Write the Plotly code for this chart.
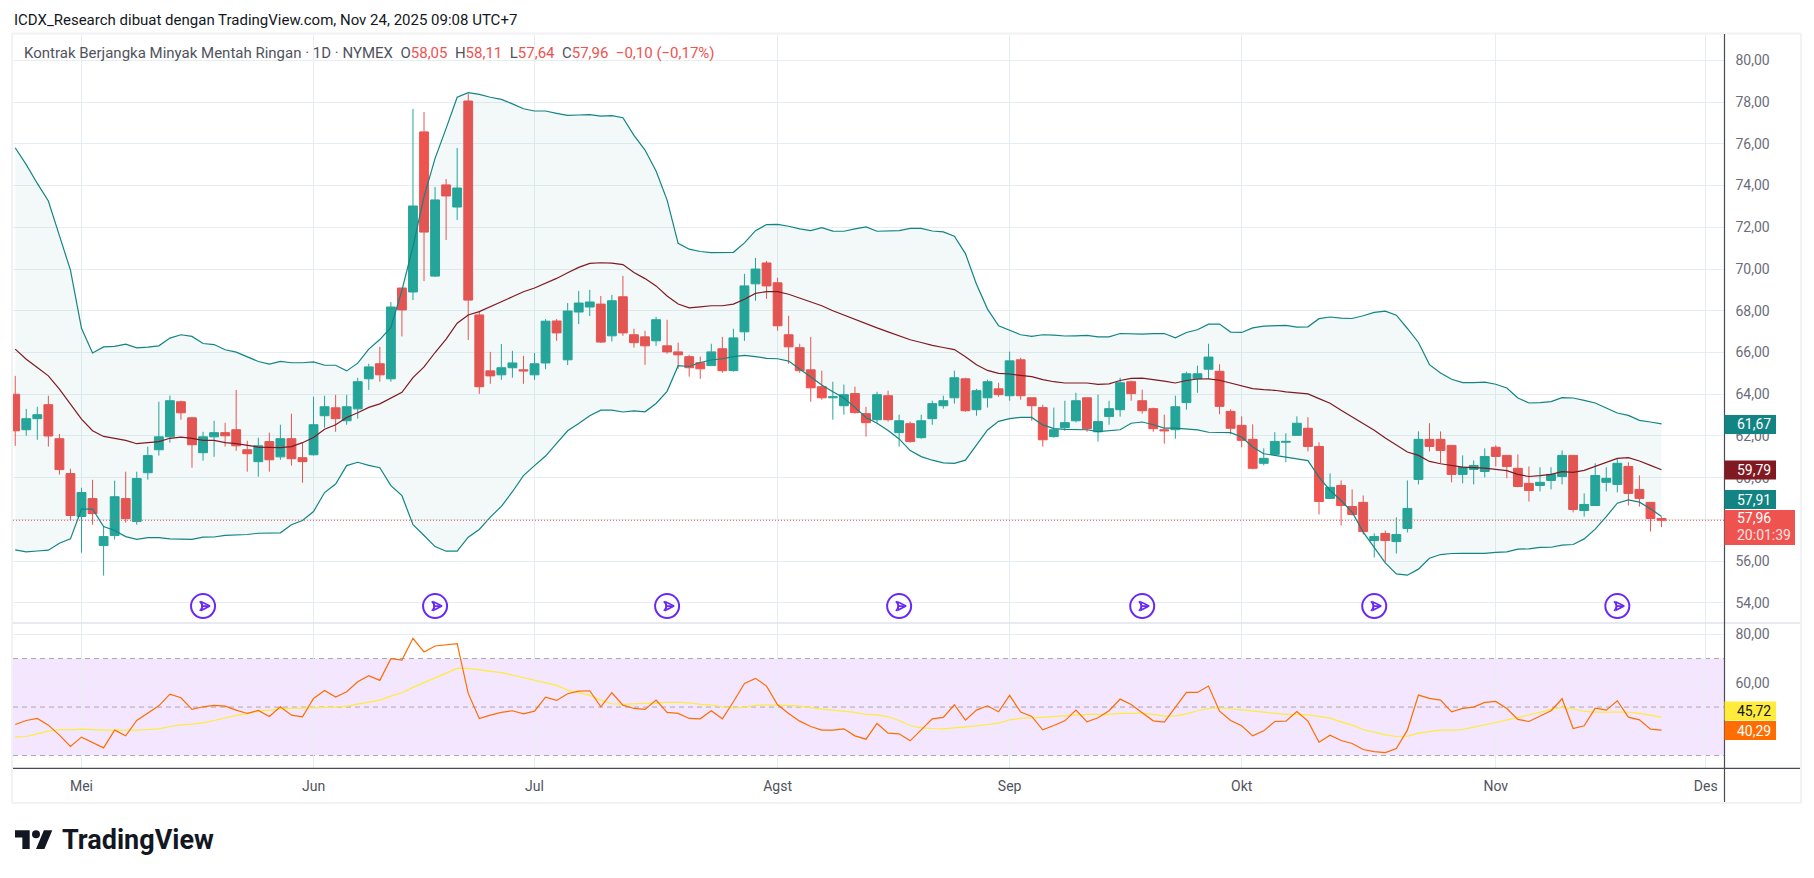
import plotly.graph_objects as go

W, H = 1814, 878

# harga harian, satu nilai per bar
open_ = [64.0, 62.3, 62.83, 63.5, 61.87, 60.2, 58.14, 59.0, 56.75, 57.23,
         59.0, 57.9, 60.24, 61.34, 61.96, 63.64, 62.87, 61.2, 61.96, 62.16,
         62.3, 61.34, 60.77, 61.73, 61.0, 61.87, 60.96, 61.1, 62.97, 63.35,
         62.73, 63.3, 64.74, 65.46, 64.74, 69.09, 68.9, 76.57, 69.66, 74.03,
         72.97, 78.05, 67.8, 65.12, 64.93, 65.27, 65.17, 64.93, 65.5, 67.51,
         65.65, 67.94, 68.18, 68.32, 66.8, 68.67, 66.85, 66.75, 66.56, 66.32,
         66.03, 65.8, 65.51, 65.37, 66.18, 65.13, 66.99, 69.29, 70.29, 69.34,
         66.85, 66.23, 65.17, 64.36, 63.83, 63.45, 64.03, 63.07, 62.78, 63.93,
         62.16, 62.59, 61.92, 62.83, 63.45, 63.83, 64.74, 63.26, 63.83, 64.26,
         63.93, 65.65, 63.83, 63.36, 61.97, 62.4, 62.73, 63.83, 62.2, 62.93,
         63.26, 64.6, 63.69, 63.31, 62.3, 62.3, 63.6, 64.74, 65.2, 65.1,
         63.18, 62.51, 61.84, 60.69, 61.12, 61.7, 62.03, 62.37, 61.5, 59.01,
         59.63, 58.62, 58.82, 56.99, 57.33, 56.94, 57.57, 59.92, 61.84, 61.84,
         61.55, 60.16, 60.4, 60.3, 61.46, 61.07, 60.45, 59.73, 59.63, 59.87,
         60.06, 61.07, 58.43, 58.67, 59.78, 59.68, 60.54, 59.44, 58.82, 58.05]
high = [64.88, 63.3, 63.4, 63.93, 62.1, 60.43, 59.52, 59.9, 57.66, 59.86,
        60.29, 60.29, 61.49, 63.64, 63.93, 63.69, 62.92, 62.2, 62.73, 62.63,
        64.21, 61.77, 61.92, 62.16, 62.54, 63.07, 61.68, 63.88, 63.93, 63.97,
        63.97, 64.79, 65.46, 66.27, 68.42, 69.09, 77.67, 77.52, 73.93, 74.31,
        75.8, 78.39, 67.94, 66.03, 66.41, 66.08, 65.84, 65.98, 67.6, 67.6,
        68.37, 68.95, 69.0, 68.71, 68.76, 69.67, 67.14, 67.04, 67.71, 67.57,
        66.47, 65.89, 65.8, 66.42, 66.75, 67.14, 69.77, 70.53, 70.39, 69.58,
        67.76, 66.42, 66.75, 65.13, 64.6, 64.46, 64.36, 63.4, 64.12, 64.17,
        63.02, 62.69, 63.02, 63.69, 63.93, 65.13, 64.79, 64.26, 64.7, 64.55,
        66.04, 65.75, 63.83, 63.5, 63.36, 63.69, 64.07, 63.83, 63.98, 63.69,
        64.79, 64.65, 64.22, 63.36, 63.02, 63.93, 65.08, 65.37, 66.42, 65.44,
        63.28, 62.94, 62.56, 61.41, 62.18, 62.13, 62.94, 62.9, 61.7, 60.21,
        59.87, 59.44, 59.15, 57.33, 57.47, 58.1, 59.87, 62.22, 62.61, 62.22,
        61.55, 61.07, 60.83, 61.41, 61.55, 61.07, 61.12, 60.54, 60.5, 60.5,
        61.31, 61.07, 59.25, 60.69, 60.5, 60.9, 60.74, 60.11, 58.82, 58.11]
low = [61.53, 62.01, 61.82, 61.49, 60.15, 57.95, 56.41, 57.75, 55.31, 57.04,
       57.85, 57.75, 59.91, 61.06, 61.68, 62.78, 60.48, 60.82, 61.0, 61.49,
       61.29, 60.29, 60.05, 60.29, 60.86, 60.58, 59.76, 61.06, 62.4, 62.2,
       62.54, 62.83, 64.21, 64.6, 64.6, 66.77, 68.51, 69.42, 69.62, 71.39,
       72.35, 66.6, 64.02, 64.5, 64.69, 64.79, 64.5, 64.69, 65.2, 66.56,
       65.4, 67.36, 67.75, 66.46, 66.53, 66.8, 66.23, 65.41, 66.32, 65.94,
       65.22, 64.84, 64.74, 65.37, 65.03, 65.08, 66.56, 68.48, 68.57, 67.04,
       65.46, 65.03, 63.64, 63.74, 62.78, 63.02, 63.07, 61.97, 62.64, 62.69,
       61.49, 61.68, 61.87, 62.54, 63.31, 63.55, 63.16, 62.97, 63.36, 63.88,
       63.69, 63.74, 62.73, 61.49, 61.92, 62.25, 62.65, 62.2, 61.73, 62.54,
       62.93, 63.69, 63.07, 62.2, 61.63, 61.87, 63.26, 64.07, 64.74, 63.04,
       62.08, 61.46, 60.4, 60.59, 61.07, 60.74, 62.03, 61.26, 58.24, 59.01,
       57.71, 58.19, 57.28, 56.18, 55.98, 56.37, 57.38, 59.68, 61.26, 60.69,
       59.78, 59.73, 59.68, 60.02, 60.54, 59.97, 59.54, 58.86, 59.34, 59.44,
       59.68, 58.34, 58.14, 58.67, 59.34, 59.3, 58.67, 58.62, 57.42, 57.64]
close = [62.25, 62.83, 63.02, 62.0, 60.39, 58.19, 59.29, 58.28, 57.18, 59.09,
         58.04, 59.96, 61.06, 61.96, 63.69, 63.11, 61.58, 61.96, 62.16, 62.01,
         61.53, 61.15, 61.53, 60.86, 61.87, 60.91, 60.77, 62.54, 63.4, 62.83,
         63.4, 64.6, 65.31, 64.93, 68.18, 68.04, 73.02, 71.77, 73.31, 73.5,
         73.88, 68.51, 64.36, 64.88, 65.27, 65.5, 65.12, 65.46, 67.5, 66.94,
         67.99, 68.37, 68.42, 66.5, 68.48, 66.94, 66.47, 66.32, 67.57, 66.03,
         65.89, 65.27, 65.22, 66.03, 65.13, 66.7, 69.19, 70.0, 69.19, 67.28,
         66.27, 65.13, 64.31, 63.83, 63.88, 63.98, 63.12, 62.64, 63.98, 62.78,
         62.73, 61.73, 62.73, 63.55, 63.69, 64.79, 63.21, 64.17, 64.6, 63.98,
         65.6, 63.93, 63.45, 61.82, 62.3, 62.64, 63.69, 62.35, 62.69, 63.31,
         64.55, 64.03, 63.21, 62.35, 62.25, 63.4, 64.98, 64.98, 65.78, 63.42,
         62.37, 61.79, 60.45, 60.93, 61.74, 61.74, 62.61, 61.5, 58.86, 59.54,
         58.67, 58.24, 57.42, 57.18, 56.99, 57.28, 58.53, 61.84, 61.5, 61.31,
         60.16, 60.5, 60.59, 61.02, 61.02, 60.54, 59.58, 59.39, 59.78, 60.16,
         61.07, 58.48, 58.72, 60.11, 59.97, 60.69, 59.25, 59.01, 58.05, 57.96]

bb_upper = [75.81, 75.0, 74.1, 73.26, 71.6, 69.95, 67.16, 65.98, 66.27, 66.29,
            66.4, 66.22, 66.26, 66.32, 66.69, 66.85, 66.77, 66.43, 66.38, 66.13,
            66.02, 65.79, 65.57, 65.44, 65.57, 65.51, 65.51, 65.55, 65.39, 65.39,
            65.12, 65.49, 66.16, 66.62, 67.2, 68.99, 71.07, 73.47, 75.3, 76.74,
            78.23, 78.45, 78.37, 78.23, 78.13, 77.91, 77.68, 77.57, 77.57, 77.46,
            77.36, 77.38, 77.4, 77.33, 77.35, 77.25, 76.4, 75.7, 74.7, 73.3,
            71.23, 70.95, 70.84, 70.79, 70.79, 70.8, 71.25, 71.84, 72.13, 72.14,
            72.05, 71.92, 71.84, 71.98, 71.82, 71.81, 71.92, 72.02, 71.81, 71.82,
            71.84, 71.95, 71.95, 71.82, 71.78, 71.57, 70.74, 69.27, 68.08, 67.28,
            67.07, 66.85, 66.77, 66.85, 66.83, 66.79, 66.8, 66.82, 66.75, 66.75,
            66.91, 66.88, 66.88, 66.9, 66.91, 66.7, 66.96, 67.09, 67.36, 67.36,
            66.98, 66.96, 67.18, 67.26, 67.28, 67.3, 67.22, 67.23, 67.62, 67.7,
            67.65, 67.63, 67.76, 67.92, 67.98, 67.79, 67.15, 66.48, 65.42, 65.02,
            64.72, 64.56, 64.56, 64.58, 64.48, 64.3, 63.82, 63.58, 63.6, 63.65,
            63.84, 63.82, 63.71, 63.58, 63.34, 63.1, 62.99, 62.75, 62.67, 62.58]
bb_basis = [66.16, 65.68, 65.28, 64.88, 64.25, 63.53, 62.81, 62.25, 61.98, 61.89,
            61.79, 61.63, 61.69, 61.73, 61.89, 61.95, 61.89, 61.79, 61.79, 61.68,
            61.63, 61.55, 61.47, 61.45, 61.44, 61.49, 61.68, 61.93, 62.32, 62.54,
            62.89, 63.11, 63.37, 63.54, 63.8, 64.09, 64.8, 65.31, 66.0, 66.64,
            67.4, 67.8, 67.96, 68.18, 68.43, 68.67, 68.91, 69.09, 69.31, 69.55,
            69.82, 70.08, 70.27, 70.3, 70.28, 70.21, 69.83, 69.54, 69.19, 68.71,
            68.32, 68.14, 68.19, 68.24, 68.24, 68.32, 68.55, 68.83, 68.92, 68.92,
            68.79, 68.6, 68.4, 68.24, 68.0, 67.79, 67.6, 67.39, 67.18, 66.99,
            66.8, 66.61, 66.48, 66.34, 66.24, 66.14, 65.8, 65.41, 65.14, 65.0,
            64.97, 64.89, 64.84, 64.7, 64.6, 64.54, 64.55, 64.54, 64.47, 64.5,
            64.66, 64.76, 64.77, 64.71, 64.63, 64.54, 64.66, 64.73, 64.74, 64.67,
            64.54, 64.4, 64.27, 64.22, 64.19, 64.11, 64.06, 64.02, 63.79, 63.57,
            63.23, 62.91, 62.56, 62.27, 61.9, 61.57, 61.23, 61.07, 60.78, 60.67,
            60.59, 60.51, 60.48, 60.46, 60.4, 60.34, 60.16, 60.06, 60.1, 60.16,
            60.29, 60.26, 60.35, 60.54, 60.74, 60.93, 60.96, 60.8, 60.59, 60.38]
bb_lower = [56.54, 56.45, 56.49, 56.53, 56.86, 57.07, 58.5, 58.5, 57.66, 57.47,
            57.18, 57.05, 57.13, 57.13, 57.07, 57.05, 57.05, 57.15, 57.16, 57.24,
            57.26, 57.28, 57.34, 57.34, 57.36, 57.75, 57.95, 58.38, 59.29, 59.7,
            60.58, 60.74, 60.59, 60.48, 59.62, 59.14, 57.75, 57.23, 56.7, 56.48,
            56.48, 57.15, 57.52, 58.11, 58.63, 59.33, 60.1, 60.58, 61.04, 61.65,
            62.25, 62.6, 62.97, 63.24, 63.24, 63.15, 63.2, 63.16, 63.56, 64.14,
            65.37, 65.33, 65.52, 65.64, 65.7, 65.8, 65.86, 65.8, 65.72, 65.7,
            65.59, 65.21, 64.81, 64.44, 64.12, 63.82, 63.37, 62.89, 62.61, 62.26,
            61.86, 61.3, 61.01, 60.84, 60.71, 60.69, 60.84, 61.54, 62.29, 62.7,
            62.83, 62.89, 62.89, 62.53, 62.35, 62.32, 62.32, 62.3, 62.21, 62.25,
            62.3, 62.61, 62.67, 62.54, 62.38, 62.38, 62.35, 62.29, 62.18, 62.16,
            62.16, 61.95, 61.47, 61.15, 61.07, 60.98, 60.93, 60.82, 60.03, 59.39,
            58.91, 58.35, 57.39, 56.67, 55.92, 55.39, 55.33, 55.62, 56.14, 56.32,
            56.37, 56.38, 56.37, 56.38, 56.42, 56.45, 56.58, 56.59, 56.66, 56.67,
            56.77, 56.8, 57.07, 57.54, 58.14, 58.78, 58.94, 58.83, 58.51, 58.14]

rsi = [42.81, 44.46, 45.29, 42.53, 38.4, 33.72, 37.58, 35.37, 33.17, 40.47,
       38.13, 44.46, 47.49, 50.52, 55.34, 53.83, 49.01, 50.11, 50.66, 50.39,
       48.73, 47.36, 48.6, 46.12, 50.11, 46.67, 45.98, 53.55, 56.86, 54.1,
       56.31, 60.44, 62.92, 61.0, 69.94, 69.39, 78.35, 72.7, 75.18, 75.59,
       76.14, 55.62, 45.29, 46.67, 47.77, 48.46, 47.22, 48.32, 54.1, 52.73,
       55.48, 56.58, 56.72, 50.11, 55.9, 50.8, 49.42, 49.01, 52.87, 47.77,
       47.36, 45.29, 45.15, 48.46, 45.15, 52.18, 59.75, 61.82, 58.65, 50.94,
       47.36, 44.19, 41.98, 40.47, 40.47, 41.02, 38.13, 36.75, 43.22, 39.23,
       38.95, 36.06, 40.74, 45.15, 45.7, 50.94, 44.6, 48.73, 50.52, 48.04,
       54.79, 47.91, 46.12, 40.6, 42.39, 44.32, 48.73, 43.91, 45.56, 48.46,
       53.28, 51.07, 47.63, 44.32, 43.77, 50.11, 56.03, 56.03, 58.65, 48.32,
       44.46, 42.26, 38.13, 40.19, 44.05, 44.19, 48.18, 44.19, 35.51, 38.4,
       36.2, 34.96, 32.48, 31.65, 31.24, 32.89, 40.47, 54.93, 53.55, 52.87,
       48.04, 49.42, 49.97, 51.9, 52.31, 49.42, 44.88, 44.05, 46.25, 48.46,
       53.42, 41.16, 42.26, 49.56, 48.73, 52.59, 45.84, 44.74, 40.88, 40.47]
rsi_ma = [37.71, 37.85, 38.95, 40.05, 40.74, 40.6, 40.88, 40.6, 40.47, 40.47,
          40.33, 40.47, 40.74, 41.02, 41.98, 42.67, 42.95, 43.5, 44.46, 45.56,
          46.53, 47.22, 48.32, 48.73, 49.28, 49.42, 49.56, 49.7, 49.7, 49.97,
          50.39, 51.21, 52.04, 52.87, 54.52, 55.9, 58.1, 60.03, 61.96, 64.02,
          65.95, 65.95, 65.4, 64.85, 64.16, 63.2, 62.09, 61.13, 60.03, 58.93,
          57.0, 56.03, 54.79, 52.87, 51.35, 51.07, 51.35, 51.35, 51.9, 51.9,
          51.9, 51.76, 51.07, 50.8, 50.11, 49.56, 49.97, 50.66, 50.94, 50.94,
          50.66, 50.39, 49.7, 49.15, 48.73, 48.32, 47.77, 46.94, 46.8, 45.98,
          44.46, 42.39, 41.43, 41.16, 41.02, 41.43, 41.71, 42.26, 42.81, 43.36,
          44.74, 45.43, 45.56, 45.84, 46.12, 46.53, 46.94, 46.94, 46.94, 46.94,
          47.36, 47.36, 47.36, 46.94, 46.25, 46.39, 47.22, 48.46, 49.42, 49.7,
          49.28, 49.15, 48.46, 47.91, 47.36, 46.94, 46.94, 46.8, 46.12, 45.43,
          43.91, 42.53, 40.74, 39.5, 38.54, 37.85, 37.99, 39.23, 39.92, 40.47,
          40.47, 40.74, 41.71, 42.53, 43.64, 44.74, 45.7, 46.53, 47.77, 49.01,
          49.83, 49.28, 48.18, 47.91, 47.91, 48.04, 47.91, 47.36, 46.67, 45.84]

bars = list(range(len(close)))
month_pos = [6, 27, 47, 69, 90, 111, 134, 153]
month_names = ['Mei', 'Jun', 'Jul', 'Agst', 'Sep', 'Okt', 'Nov', 'Des']
price_ticks = list(range(54, 82, 2))
rsi_ticks = [40, 60, 80]
rollover_bars = [17, 38, 59, 80, 102, 123, 145]
rollover_y = [53.85] * len(rollover_bars)

GREEN, RED = '#26a69a', '#ef5350'
TEAL, MAROON = '#138484', '#801922'
ORANGE, YELLOW = '#ff6d00', '#ffeb3b'
GRID = '#e6eef4'
PURPLE = '#6a28f5'
FONT = 'Roboto'


def px(x):
    return x / W


def py(y):
    return 1 - y / H


fig = go.Figure()
fig.add_trace(go.Scatter(x=bars, y=bb_upper, mode='lines', line=dict(color=TEAL, width=1.2)))
fig.add_trace(go.Scatter(x=bars, y=bb_lower, mode='lines', line=dict(color=TEAL, width=1.2),
                         fill='tonexty', fillcolor='rgba(19,132,132,0.05)'))
fig.add_trace(go.Scatter(x=bars, y=bb_basis, mode='lines', line=dict(color=MAROON, width=1.2)))
fig.add_trace(go.Candlestick(
    x=bars, open=open_, high=high, low=low, close=close, whiskerwidth=0,
    increasing=dict(line=dict(color=GREEN, width=1), fillcolor=GREEN),
    decreasing=dict(line=dict(color=RED, width=1), fillcolor=RED),
))
# ikon rollover kontrak
fig.add_trace(go.Scatter(x=rollover_bars, y=rollover_y, mode='markers',
                         marker=dict(symbol='circle-open', size=24, color=PURPLE, line=dict(width=2, color=PURPLE))))
fig.add_trace(go.Scatter(x=rollover_bars, y=rollover_y, mode='markers',
                         marker=dict(symbol='y-right', size=8, color=PURPLE, line=dict(width=1.6, color=PURPLE))))
fig.add_trace(go.Scatter(x=[b + 0.62 for b in rollover_bars], y=rollover_y, mode='markers',
                         marker=dict(symbol='arrow-right-open', size=8, color=PURPLE,
                                     line=dict(width=1.6, color=PURPLE))))
fig.add_trace(go.Scatter(x=bars, y=rsi_ma, mode='lines', xaxis='x2', yaxis='y2',
                         line=dict(color=YELLOW, width=1.2)))
fig.add_trace(go.Scatter(x=bars, y=rsi, mode='lines', xaxis='x2', yaxis='y2',
                         line=dict(color=ORANGE, width=1.2)))

PLOT_L, PLOT_R = 13, 1724.5
PRICE_T, PRICE_B, RSI_B = 34, 623, 768.3
x_range = [-0.2, 154.7]
xdomain = [px(PLOT_L), px(PLOT_R)]

fig.update_layout(
    width=W, height=H, autosize=False,
    margin=dict(l=0, r=0, t=0, b=0),
    paper_bgcolor='white', plot_bgcolor='white',
    showlegend=False, separators=',.', boxgap=0.2, boxgroupgap=0,
    font=dict(family=FONT, size=14, color='#50535e'),
    xaxis=dict(domain=xdomain, range=x_range, anchor='y', tickmode='array', tickvals=month_pos,
               showticklabels=False, showgrid=True, gridcolor=GRID, gridwidth=1, zeroline=False,
               rangeslider=dict(visible=False)),
    yaxis=dict(domain=[py(PRICE_B), py(PRICE_T)], range=[53.04, 81.26], anchor='x', side='right',
               tickmode='array', tickvals=price_ticks, tickformat='.2f', ticks='', ticklabelstandoff=10,
               tickfont=dict(size=14, color='#6a6d78'), showgrid=True, gridcolor=GRID, gridwidth=1.2,
               zeroline=False),
    xaxis2=dict(domain=xdomain, range=x_range, anchor='y2', tickmode='array', tickvals=month_pos,
                ticktext=month_names, ticks='', ticklabelstandoff=8, tickfont=dict(size=14, color='#50535e'),
                showgrid=True, gridcolor=GRID, gridwidth=1, zeroline=False),
    yaxis2=dict(domain=[py(RSI_B), py(PRICE_B)], range=[24.74, 84.66], anchor='x2', side='right',
                tickmode='array', tickvals=rsi_ticks, tickformat='.2f', ticks='', ticklabelstandoff=10,
                tickfont=dict(size=14, color='#6a6d78'), showgrid=True, gridcolor=GRID, gridwidth=1.2,
                zeroline=False),
)

# garis harga terakhir, area RSI dan level
fig.add_shape(type='line', xref='x', yref='y', x0=x_range[0], x1=x_range[1], y0=close[-1], y1=close[-1],
              line=dict(color=RED, width=1, dash='1px,2px'))
fig.add_shape(type='rect', xref='x2', yref='y2', x0=x_range[0], x1=x_range[1], y0=30, y1=70, layer='below',
              line=dict(width=0), fillcolor='rgba(156,39,242,0.115)')
for level in [30, 50, 70]:
    fig.add_shape(type='line', xref='x2', yref='y2', x0=x_range[0], x1=x_range[1], y0=level, y1=level,
                  layer='below', line=dict(color='#a8a6ae', width=1, dash='5px,4px'))


def pixel_line(x0, y0, x1, y1, color, width):
    fig.add_shape(type='line', xref='paper', yref='paper', x0=px(x0), x1=px(x1), y0=py(y0), y1=py(y1),
                  line=dict(color=color, width=width))


# bingkai
pixel_line(12, 33.5, 1801, 33.5, '#f1f2f4', 2)
pixel_line(12, 803, 1801, 803, '#f1f2f4', 2)
pixel_line(12, 33.5, 12, 803, '#f1f2f4', 2)
pixel_line(1801, 33.5, 1801, 803, '#f1f2f4', 2)
pixel_line(PLOT_L, PRICE_B, 1800, PRICE_B, '#e0e3eb', 1.5)
pixel_line(PLOT_L, RSI_B, 1800, RSI_B, '#4a4b55', 1.2)
pixel_line(PLOT_R, 34, PLOT_R, 802, '#4a4b55', 1.2)


def text(x, y, s, size=14, color='#131722', anchor='left', **kw):
    fig.add_annotation(xref='paper', yref='paper', x=px(x), y=py(y), text=s, showarrow=False,
                       xanchor=anchor, yanchor='middle', font=dict(size=size, color=color), **kw)


text(12, 20, 'ICDX_Research dibuat dengan TradingView.com, Nov 24, 2025 09:08 UTC+7', 15, '#131722')


def val(s):
    return f'<span style="color:{RED}">{s}</span>'


legend_text = ('Kontrak Berjangka Minyak Mentah Ringan · 1D · NYMEX  O' + val('58,05') + '  H' + val('58,11')
               + '  L' + val('57,64') + '  C' + val('57,96') + val('  −0,10 (−0,17%)'))
text(22, 53, legend_text, 15, '#50535e')

# label nilai terakhir di skala harga
side_labels = [
    ('61,67', 424.5, TEAL, 'white'),
    ('59,79', 470, MAROON, 'white'),
    ('57,91', 499.5, TEAL, 'white'),
    ('45,72', 711, YELLOW, '#131722'),
    ('40,29', 730.5, ORANGE, 'white'),
]
for label, yc, bg, fg in side_labels:
    fig.add_shape(type='rect', xref='paper', yref='paper', x0=px(PLOT_R), x1=px(1776), y0=py(yc - 9.5),
                  y1=py(yc + 9.5), line=dict(width=0), fillcolor=bg)
    text(1735, yc, label, 14, fg)

fig.add_shape(type='rect', xref='paper', yref='paper', x0=px(PLOT_R), x1=px(1795), y0=py(510), y1=py(545),
              line=dict(width=0), fillcolor=RED)
text(1735, 518, '57,96', 14, 'white')
text(1735, 535, '20:01:39', 14, '#fde3e2')

# logo
LOGO_X, LOGO_Y, LOGO_S = 15, 826, 1.05
logo_polys = [
    [(14, 22), (7, 22), (7, 11), (0, 11), (0, 4), (14, 4)],
    [(28, 22), (20, 22), (27.5, 4), (35.5, 4)],
]
for poly in logo_polys:
    path = 'M' + ' L'.join(f'{px(LOGO_X + a * LOGO_S):.5f},{py(LOGO_Y + b * LOGO_S):.5f}' for a, b in poly) + ' Z'
    fig.add_shape(type='path', xref='paper', yref='paper', path=path, line=dict(width=0), fillcolor='#131722')
fig.add_shape(type='circle', xref='paper', yref='paper', x0=px(LOGO_X + 16.2 * LOGO_S), x1=px(LOGO_X + 23.8 * LOGO_S),
              y0=py(LOGO_Y + 4 * LOGO_S), y1=py(LOGO_Y + 11.6 * LOGO_S), line=dict(width=0), fillcolor='#131722')
text(60, 840, '<b>TradingView</b>', 27, '#131722')

fig.write_html('out.html', post_script="document.body.style.margin='0';", config={'displayModeBar': False})
